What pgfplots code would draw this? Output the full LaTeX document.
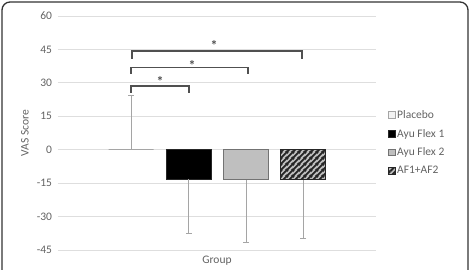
\documentclass[border=0pt]{standalone}
\usepackage{pgfplots}
\pgfplotsset{compat=1.18}
\usepackage{fontspec}
\setmainfont{Carlito}
\usetikzlibrary{patterns.meta}
\definecolor{txt}{RGB}{98,98,98}
\definecolor{gridc}{RGB}{222,222,222}
\definecolor{errc}{RGB}{165,165,165}
\definecolor{brk}{RGB}{80,80,80}
\definecolor{fl2}{RGB}{191,191,191}
\definecolor{plc}{RGB}{242,242,242}
\tikzdeclarepattern{name=hatch, type=uncolored, bottom left={(0pt,0pt)}, top right={(5.5pt,5.5pt)}, tile size={(5.5pt,5.5pt)},
  code={\draw[line width=1.9pt] (-1pt,-1pt)--(6.5pt,6.5pt); \draw[line width=1.9pt] (-1pt,4.5pt)--(1pt,6.5pt); \draw[line width=1.9pt] (4.5pt,-1pt)--(6.5pt,1pt);}}
\begin{document}
\fontsize{11.5}{13.8}\selectfont
\begin{tikzpicture}[x=1pt,y=1pt]
\useasboundingbox (0,0) rectangle (471,270);
\clip (0,0) rectangle (471,270);
\draw[line width=1.3pt, color=black!80, rounded corners=8pt] (2,-20) rectangle (468,268);
\begin{axis}[at={(58pt,20pt)}, anchor=south west, scale only axis,
  width=318pt, height=234pt, xmin=0, xmax=318, ymin=-45, ymax=60,
  ytick={-45,-30,...,60}, xtick=\empty,
  axis line style={draw=none}, major tick length=0pt,
  ymajorgrids, grid style={gridc, line width=0.8pt},
  tick label style={text=txt}, yticklabel style={xshift=-2pt},
  /pgf/number format/assume math mode=true,
  legend style={at={(rel axis cs:1.028,0.457)}, anchor=west, draw=none, fill=none, text=txt, row sep=5pt, cells={anchor=west}},
  legend image code/.code={\draw[line width=0.6pt,#1] (0pt,-3pt) rectangle (6.5pt,3.5pt);},
  clip=false]
\addplot[ybar, bar width=45pt, bar shift=0pt, fill=plc, draw=errc, line width=1.4pt,
  error bars/y dir=plus, error bars/y explicit,
  error bars/error bar style={errc, line width=0.8pt},
  error bars/error mark options={rotate=90, mark size=3pt, errc, line width=0.8pt}]
  coordinates {(73,0) +- (0,24.2)};
\addlegendentry{Placebo}
\addplot[ybar, bar width=45pt, bar shift=0pt, fill=black, draw=black!85, line width=0.8pt,
  error bars/y dir=minus, error bars/y explicit,
  error bars/error bar style={errc, line width=0.8pt},
  error bars/error mark options={rotate=90, mark size=3pt, errc, line width=0.8pt}]
  coordinates {(130.5,-13.1) +- (0,24.5)};
\addlegendentry{Ayu Flex 1}
\addplot[ybar, bar width=45pt, bar shift=0pt, fill=fl2, draw=black!55, line width=0.8pt,
  error bars/y dir=minus, error bars/y explicit,
  error bars/error bar style={errc, line width=0.8pt},
  error bars/error mark options={rotate=90, mark size=3pt, errc, line width=0.8pt}]
  coordinates {(188,-13.5) +- (0,28.1)};
\addlegendentry{Ayu Flex 2}
\addplot[ybar, bar width=45pt, bar shift=0pt, fill=fl2, draw=black!85, line width=0.8pt,
  postaction={pattern=hatch, pattern color=black!85},
  error bars/y dir=minus, error bars/y explicit,
  error bars/error bar style={errc, line width=0.8pt},
  error bars/error mark options={rotate=90, mark size=3pt, errc, line width=0.8pt}]
  coordinates {(245,-13.5) +- (0,26.3)};
\addlegendentry{AF1+AF2}
\addplot[forget plot, brk, line width=1.5pt, mark=none] coordinates {(74,40.8) (74,44.4) (244,44.4) (244,40.8)};
\addplot[forget plot, brk, line width=1.5pt, mark=none] coordinates {(73,34.1) (73,36.8) (190,36.8) (190,34.1)};
\addplot[forget plot, brk, line width=1.5pt, mark=none] coordinates {(73,25.6) (73,28.7) (131,28.7) (131,25.6)};
\node[text=brk, font=\fontsize{14}{16}\selectfont\bfseries] at (axis cs:156,46.6) {*};
\node[text=brk, font=\fontsize{14}{16}\selectfont\bfseries] at (axis cs:134,37.6) {*};
\node[text=brk, font=\fontsize{14}{16}\selectfont\bfseries] at (axis cs:102,30.4) {*};
\end{axis}
\node[text=txt, rotate=90] at (25,137) {VAS Score};
\node[text=txt] at (217,9) {Group};
\end{tikzpicture}
\end{document}
